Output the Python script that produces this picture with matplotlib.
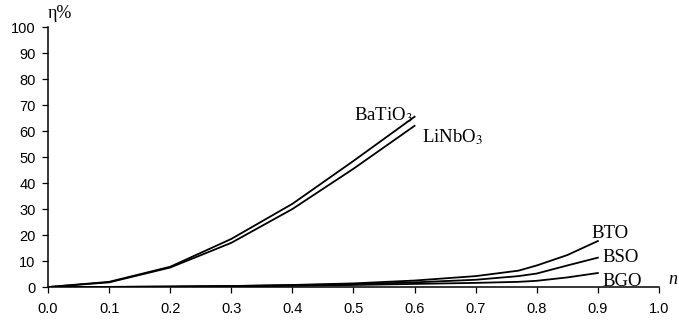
import matplotlib
matplotlib.use("Agg")
import matplotlib.pyplot as plt

plt.rcParams['mathtext.fontset'] = 'stix'

# data (n vs efficiency %)
n_fast = [0.0, 0.1, 0.2, 0.3, 0.4, 0.5, 0.6]
batio3 = [0.0, 2.0, 7.8, 18.5, 32.0, 48.5, 65.5]
linbo3 = [0.0, 1.8, 7.5, 17.0, 30.0, 45.5, 62.0]

n_slow = [0.0, 0.1, 0.2, 0.3, 0.4, 0.5, 0.6, 0.7, 0.77, 0.8, 0.85, 0.9]
bto = [0.0, 0.05, 0.2, 0.4, 0.8, 1.4, 2.5, 4.2, 6.3, 8.3, 12.3, 17.7]
bso = [0.0, 0.05, 0.15, 0.35, 0.7, 1.1, 1.8, 2.8, 4.2, 5.2, 8.3, 11.3]
bgo = [0.0, 0.03, 0.1, 0.25, 0.5, 0.8, 1.2, 1.6, 2.0, 2.4, 3.7, 5.4]

fig = plt.figure(figsize=(6.79, 3.2), dpi=100)
ax = fig.add_axes([0.0707, 0.103, 0.8998, 0.8126])

for y in (batio3, linbo3):
    ax.plot(n_fast, y, color='black', lw=1.3)
for y in (bto, bso, bgo):
    ax.plot(n_slow, y, color='black', lw=1.3)

ax.set_xlim(0, 1.0)
ax.set_ylim(0, 100)
ax.set_xticks([i / 10 for i in range(11)])
ax.set_xticklabels([f'{i / 10:.1f}' for i in range(11)])
ax.set_yticks(range(0, 101, 10))
for s in ('top', 'right'):
    ax.spines[s].set_visible(False)
ax.spines['left'].set_linewidth(1.1)
ax.spines['bottom'].set_linewidth(1.1)
ax.tick_params(labelsize=10.5, length=4, width=0.9)
ax.tick_params(axis='x', pad=7)
ax.tick_params(axis='y', pad=5)
for lbl in ax.get_xticklabels() + ax.get_yticklabels():
    lbl.set_family('Liberation Sans')

serif = dict(family='Liberation Serif', fontsize=13.5, va='baseline')
ax.text(0.598, 64.0, 'BaTiO$_3$', ha='right', **serif)
ax.text(0.612, 55.8, 'LiNbO$_3$', ha='left', **serif)
ax.text(0.89, 18.8, 'BTO', ha='left', **serif)
ax.text(0.908, 9.6, 'BSO', ha='left', **serif)
ax.text(0.908, 0.5, 'BGO', ha='left', **serif)

ax.text(0.0, 103.5, 'η%', ha='left', va='baseline', family='Liberation Serif',
        fontsize=13, clip_on=False)
ax.text(1.015, 1.0, 'n', ha='left', va='baseline', family='Liberation Serif',
        style='italic', fontsize=13, clip_on=False)

fig.savefig('out.png', dpi=100)
